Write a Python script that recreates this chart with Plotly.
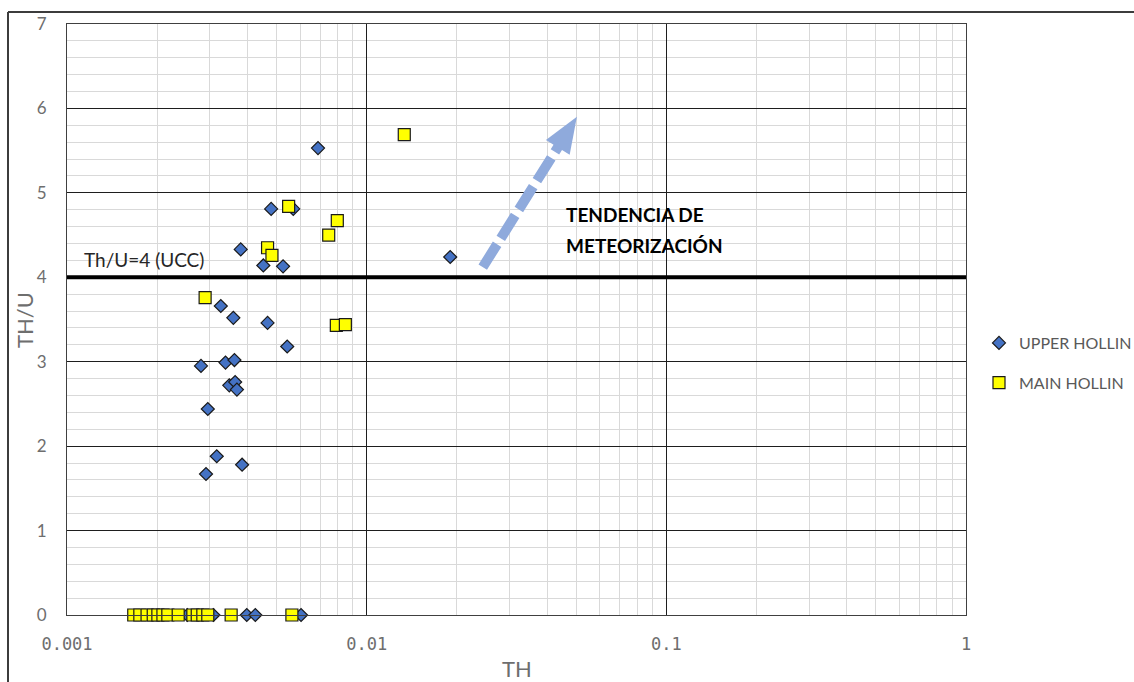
import math
import plotly.graph_objects as go

# Th (x, log scale) and Th/U (y) for the two units
upper_th = [0.00688, 0.00480, 0.00569, 0.00380, 0.00452, 0.00526, 0.0190,
            0.00326, 0.00359, 0.00467, 0.00543, 0.00280, 0.00338, 0.00362,
            0.00348, 0.00364, 0.00369, 0.00295, 0.00316, 0.00384, 0.00291,
            0.00252, 0.00308, 0.00398, 0.00425, 0.00604]
upper_thu = [5.53, 4.81, 4.81, 4.33, 4.14, 4.13, 4.24,
             3.66, 3.52, 3.46, 3.18, 2.95, 2.99, 3.02,
             2.72, 2.76, 2.67, 2.44, 1.88, 1.78, 1.67,
             0, 0, 0, 0, 0]

main_th = [0.01335, 0.00549, 0.00798, 0.00747, 0.00467, 0.00483, 0.00289,
           0.00792, 0.00849,
           0.00167, 0.00175, 0.00185, 0.00194, 0.00201, 0.00209, 0.00217,
           0.00235, 0.00263, 0.00272, 0.00284, 0.00295, 0.00353, 0.00563]
main_thu = [5.69, 4.84, 4.67, 4.50, 4.35, 4.26, 3.76,
            3.43, 3.44,
            0, 0, 0, 0, 0, 0, 0,
            0, 0, 0, 0, 0, 0, 0]

x_ticks = [0.001, 0.01, 0.1, 1]
x_tick_labels = ["0.001", "0.01", "0.1", "1"]
y_ticks = [0, 1, 2, 3, 4, 5, 6, 7]

UCC_THU = 4                      # upper continental crust Th/U
trend_tail = (0.0244, 4.12)      # weathering trend arrow (Th, Th/U)
trend_tip = (0.0503, 5.90)

# plot-area geometry (pixels)
W, H = 1134, 682
ML, MT = 67, 24
PW, PH = 899, 591
MR, MB = W - ML - PW, H - MT - PH
X_RANGE = [-3, 0]
Y_RANGE = [0, 7]


def to_paper(x, y):
    px = (math.log10(x) - X_RANGE[0]) / (X_RANGE[1] - X_RANGE[0])
    py = (y - Y_RANGE[0]) / (Y_RANGE[1] - Y_RANGE[0])
    return px, py


def pix_to_paper(px, py):
    return (px - ML) / PW, (MT + PH - py) / PH


def paper_to_pix(u, v):
    return ML + u * PW, MT + PH - v * PH


GRID_MAJOR = "#1e1e1e"
GRID_MINOR = "#d9d9d9"
TICK_GREY = "#6e6e6e"

fig = go.Figure()

fig.add_trace(go.Scatter(
    x=upper_th, y=upper_thu, mode="markers", name="UPPER HOLLIN",
    legendgroup="upper", cliponaxis=False,
    marker=dict(symbol="diamond", size=10, color="#4472c4",
                line=dict(color="#1a1a1a", width=1.2)),
))
fig.add_trace(go.Scatter(
    x=main_th, y=main_thu, mode="markers", name="MAIN HOLLIN",
    legendgroup="main", cliponaxis=False,
    marker=dict(symbol="square", size=12, color="#ffff00",
                line=dict(color="#1a1a1a", width=1.2)),
))

shapes = []

# Th/U = 4 reference line
shapes.append(dict(type="line", xref="paper", yref="y", x0=0, x1=1,
                   y0=UCC_THU, y1=UCC_THU,
                   line=dict(color="#000000", width=4)))

# weathering trend arrow: dashed shaft + solid head
tail_px = paper_to_pix(*to_paper(*trend_tail))
tip_px = paper_to_pix(*to_paper(*trend_tip))
dx, dy = tip_px[0] - tail_px[0], tip_px[1] - tail_px[1]
L = math.hypot(dx, dy)
ux, uy = dx / L, dy / L
nx, ny = -uy, ux
head_len, head_half = 36, 14
base = (tip_px[0] - head_len * ux, tip_px[1] - head_len * uy)
shaft_end = (base[0] + 2 * ux, base[1] + 2 * uy)
arrow_col = "#8faadc"
s0 = pix_to_paper(*tail_px)
s1 = pix_to_paper(*shaft_end)
shapes.append(dict(type="line", xref="paper", yref="paper",
                   x0=s0[0], y0=s0[1], x1=s1[0], y1=s1[1],
                   line=dict(color=arrow_col, width=10, dash="27px,7px")))
p_tip = pix_to_paper(*tip_px)
p_b1 = pix_to_paper(base[0] + head_half * nx, base[1] + head_half * ny)
p_b2 = pix_to_paper(base[0] - head_half * nx, base[1] - head_half * ny)
shapes.append(dict(type="path", xref="paper", yref="paper",
                   path=f"M {p_tip[0]} {p_tip[1]} L {p_b1[0]} {p_b1[1]} "
                        f"L {p_b2[0]} {p_b2[1]} Z",
                   fillcolor=arrow_col, line=dict(width=0)))

# outer chart frame
fx0, fy0 = pix_to_paper(8, 12)
fx1, fy1 = pix_to_paper(W + 10, H + 10)
shapes.append(dict(type="line", xref="paper", yref="paper",
                   x0=fx0, x1=fx1, y0=fy0, y1=fy0,
                   line=dict(color="#3c3c3c", width=2)))
shapes.append(dict(type="line", xref="paper", yref="paper",
                   x0=fx0, x1=fx0, y0=fy0, y1=fy1,
                   line=dict(color="#3c3c3c", width=2)))

annotations = []
annotations.append(dict(
    x=pix_to_paper(82, 0)[0], y=UCC_THU, xref="paper", yref="y",
    xanchor="left", yanchor="bottom", yshift=4, showarrow=False,
    text="Th/U=4 (UCC)", font=dict(family="Lato", size=19, color="#262626")))
for txt, ypix in [("TENDENCIA DE", 214), ("METEORIZACIÓN", 245)]:
    ax_, ay_ = pix_to_paper(564, ypix)
    annotations.append(dict(
        x=ax_, y=ay_, xref="paper", yref="paper", xanchor="left",
        yanchor="middle", showarrow=False, text=f"<b>{txt}</b>",
        font=dict(family="Lato", size=19, color="#000000")))

# axis titles
tx, ty = pix_to_paper(517, 668)
annotations.append(dict(x=tx, y=ty, xref="paper", yref="paper",
                        xanchor="center", yanchor="middle", showarrow=False,
                        text="TH", font=dict(family="Lato", size=22,
                                             color=TICK_GREY)))
tx, ty = pix_to_paper(24, 320)
annotations.append(dict(x=tx, y=ty, xref="paper", yref="paper",
                        xanchor="center", yanchor="middle", showarrow=False,
                        textangle=-90, text="TH/U",
                        font=dict(family="Lato", size=22, color=TICK_GREY)))

lx, ly = pix_to_paper(979, 326)

fig.update_layout(
    width=W, height=H,
    margin=dict(l=ML, r=MR, t=MT, b=MB, pad=0, autoexpand=False),
    paper_bgcolor="white", plot_bgcolor="white",
    showlegend=True,
    legend=dict(x=lx, y=ly, xanchor="left", yanchor="top",
                font=dict(family="Lato", size=16, color="#595959"),
                tracegroupgap=16, bgcolor="rgba(0,0,0,0)"),
    shapes=shapes,
    annotations=annotations,
    xaxis=dict(type="log", range=X_RANGE, tickvals=x_ticks,
               ticktext=x_tick_labels, showgrid=True, gridcolor=GRID_MAJOR,
               gridwidth=1, zeroline=False, showline=True, mirror=True,
               linecolor="#404040", linewidth=1, ticks="",
               ticklabelstandoff=14, automargin=False,
               tickfont=dict(family="DejaVu Sans Mono", size=17,
                             color=TICK_GREY),
               minor=dict(dtick="D1", showgrid=True, gridcolor=GRID_MINOR,
                          gridwidth=1, ticks="")),
    yaxis=dict(range=Y_RANGE, tickvals=y_ticks, showgrid=True,
               gridcolor=GRID_MAJOR, gridwidth=1, zeroline=False,
               showline=True, mirror=True, linecolor="#404040", linewidth=1,
               ticks="", ticklabelstandoff=16, automargin=False,
               tickfont=dict(family="Lato", size=17, color=TICK_GREY),
               minor=dict(dtick=0.2, showgrid=True, gridcolor=GRID_MINOR,
                          gridwidth=1, ticks="")),
)

fig.write_html("out.html")
